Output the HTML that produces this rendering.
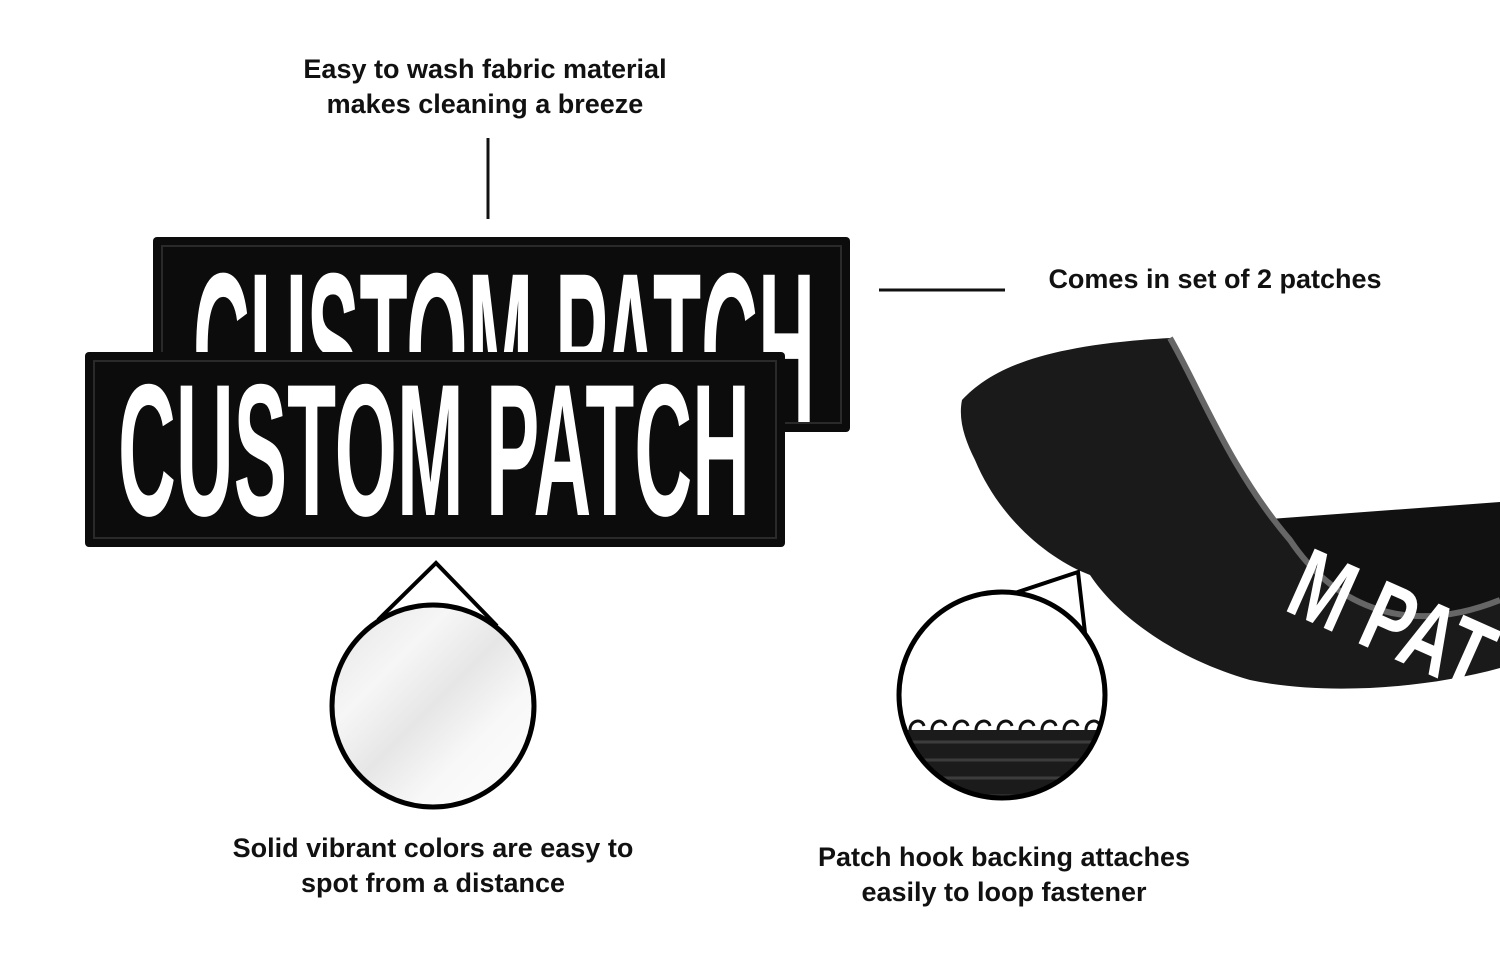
<!DOCTYPE html>
<html><head><meta charset="utf-8"><style>
html,body{margin:0;padding:0;background:#fff;}
body{width:1500px;height:979px;position:relative;overflow:hidden;font-family:"Liberation Sans",sans-serif;}
.t{position:absolute;font-weight:bold;font-size:27px;color:#111;text-align:center;line-height:35px;white-space:nowrap;}
</style></head><body>
<svg width="1500" height="979" style="position:absolute;left:0;top:0">
<defs>
<clipPath id="cr"><circle cx="1002" cy="695" r="103"/></clipPath>
<linearGradient id="g1" x1="0" y1="0" x2="1" y2="1">
<stop offset="0" stop-color="#e4e4e4"/><stop offset="0.3" stop-color="#f6f6f6"/><stop offset="0.5" stop-color="#e6e6e6"/><stop offset="0.7" stop-color="#f8f8f8"/><stop offset="1" stop-color="#fdfdfd"/></linearGradient>
</defs>
<line x1="488" y1="138" x2="488" y2="219" stroke="#111" stroke-width="3"/>
<line x1="879" y1="290" x2="1005" y2="290" stroke="#111" stroke-width="3"/>
<!-- back patch -->
<rect x="153" y="237" width="697" height="195" rx="4" fill="#0c0c0c"/>
<rect x="162" y="246" width="679" height="177" fill="none" stroke="#2a2a2a" stroke-width="2"/>
<text x="193" y="422" font-family="Liberation Sans" font-weight="bold" font-size="214" fill="#fff" textLength="622" lengthAdjust="spacingAndGlyphs">CUSTOM PATCH</text>
<!-- front patch -->
<rect x="85" y="352" width="700" height="195" rx="4" fill="#0c0c0c"/>
<rect x="94" y="361" width="682" height="177" fill="none" stroke="#2a2a2a" stroke-width="2"/>
<text x="118" y="515" font-family="Liberation Sans" font-weight="bold" font-size="188" fill="#fff" textLength="632" lengthAdjust="spacingAndGlyphs">CUSTOM PATCH</text>
<!-- left callout -->
<polyline points="378,620 436,563 497,626" fill="none" stroke="#000" stroke-width="4"/>
<circle cx="433" cy="706" r="101" fill="url(#g1)" stroke="#000" stroke-width="5"/>
<!-- curled velcro -->
<path d="M1230 522 L1500 502 L1500 610 C1420 630 1330 680 1250 680 Z" fill="#111"/>
<path d="M962 400 C990 370 1040 345 1170 338 C1200 390 1230 470 1290 540 C1330 600 1400 640 1500 600 L1500 668 C1420 690 1320 695 1250 680 C1180 660 1120 620 1090 575 C1050 560 1000 520 975 460 C965 440 958 420 962 400 Z" fill="#1a1a1a"/>
<path d="M1170 338 C1200 390 1230 470 1290 540 C1330 600 1400 640 1500 600" fill="none" stroke="#666" stroke-width="6"/>
<text x="1295" y="610" font-family="Liberation Sans" font-weight="bold" font-size="100" fill="#fff" transform="rotate(24 1290 580)" textLength="210" lengthAdjust="spacingAndGlyphs">M PAT</text>
<!-- right callout -->
<polyline points="973,607 1078,572 1087,650" fill="none" stroke="#000" stroke-width="4"/>
<circle cx="1002" cy="695" r="103" fill="#fff"/>
<g clip-path="url(#cr)">
<rect x="890" y="730" width="230" height="80" fill="#1b1b1b"/>
<g fill="none" stroke="#3c3c3c" stroke-width="3">
<path d="M905 742 h200 M905 760 h200 M905 778 h200 M905 796 h200"/>
</g>
<g fill="none" stroke="#111" stroke-width="3">
<path d="M910 730 c0-10 12-12 14-4 M932 730 c0-10 12-12 14-4 M954 730 c0-10 12-12 14-4 M976 730 c0-10 12-12 14-4 M998 730 c0-10 12-12 14-4 M1020 730 c0-10 12-12 14-4 M1042 730 c0-10 12-12 14-4 M1064 730 c0-10 12-12 14-4 M1086 730 c0-10 12-12 14-4"/>
</g>
</g>
<circle cx="1002" cy="695" r="103" fill="none" stroke="#000" stroke-width="5"/>
</svg>
<div class="t" style="left:285px;top:52px;width:400px">Easy to wash fabric material<br>makes cleaning a breeze</div>
<div class="t" style="left:1030px;top:262px;width:370px">Comes in set of 2 patches</div>
<div class="t" style="left:203px;top:831px;width:460px">Solid vibrant colors are easy to<br>spot from a distance</div>
<div class="t" style="left:774px;top:840px;width:460px">Patch hook backing attaches<br>easily to loop fastener</div>
</body></html>
